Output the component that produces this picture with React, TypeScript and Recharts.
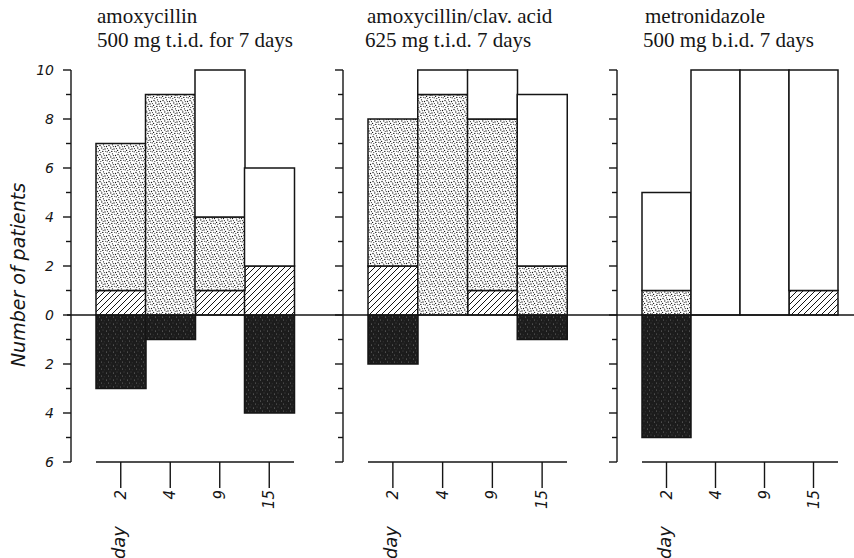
import { Bar, BarChart, ReferenceLine, XAxis, YAxis } from 'recharts';

// days of follow-up, same for every regimen
const days = ['2', '4', '9', '15'];

// amoxycillin 500 mg t.i.d. for 7 days
const amoxBlack = [-3, -1, 0, -4];
const amoxHatched = [1, 0, 1, 2];
const amoxStippled = [6, 9, 3, 0];
const amoxWhite = [0, 0, 6, 4];

// amoxycillin/clav. acid 625 mg t.i.d. 7 days
const clavBlack = [-2, 0, 0, -1];
const clavHatched = [2, 0, 1, 0];
const clavStippled = [6, 9, 7, 2];
const clavWhite = [0, 1, 2, 7];

// metronidazole 500 mg b.i.d. 7 days
const metroBlack = [-5, 0, 0, 0];
const metroHatched = [0, 0, 0, 1];
const metroStippled = [1, 0, 0, 0];
const metroWhite = [4, 10, 10, 9];

const yTicks = [-6, -5, -4, -3, -2, -1, 0, 1, 2, 3, 4, 5, 6, 7, 8, 9, 10];

const INK = '#151515';
const HAND = '"DejaVu Sans", sans-serif';

function rows(black: number[], hatched: number[], stippled: number[], white: number[]) {
  return days.map((day, i) => ({
    day,
    black: black[i],
    hatched: hatched[i],
    stippled: stippled[i],
    white: white[i],
  }));
}

function YTick(props: any) {
  const { x, y, payload, showLabel } = props;
  const v = payload.value as number;
  const major = v % 2 === 0;
  return (
    <g>
      <line x1={x - (major ? 8 : 5)} x2={x} y1={y} y2={y} stroke={INK} strokeWidth={1.4} />
      {showLabel && major && (
        <text
          x={x - 17}
          y={y + 5}
          textAnchor="end"
          fontFamily={HAND}
          fontStyle="italic"
          fontWeight={300}
          fontSize={14}
          fill={INK}
        >
          {Math.abs(v)}
        </text>
      )}
    </g>
  );
}

function XTick(props: any) {
  const { x, y, payload } = props;
  return (
    <text
      x={x + 5}
      y={y}
      transform={`rotate(-90, ${x + 5}, ${y})`}
      textAnchor="end"
      fontFamily={HAND}
      fontStyle="italic"
      fontWeight={300}
      fontSize={15}
      fill={INK}
    >
      {payload.value}
    </text>
  );
}

function DayLabel(props: any) {
  const { viewBox } = props;
  const cx = viewBox.x + viewBox.width / 8 + 4;
  const top = viewBox.y + 64;
  return (
    <text
      x={cx}
      y={top}
      transform={`rotate(-90, ${cx}, ${top})`}
      textAnchor="end"
      fontFamily={HAND}
      fontStyle="italic"
      fontWeight={300}
      fontSize={18}
      fill={INK}
    >
      day
    </text>
  );
}

type PanelProps = {
  data: ReturnType<typeof rows>;
  left: number;
  width: number;
  margin: { top: number; right: number; bottom: number; left: number };
  axisWidth: number;
  showLabels: boolean;
  zeroFrom: number;
};

function Panel({ data, left, width, margin, axisWidth, showLabels, zeroFrom }: PanelProps) {
  return (
    <div style={{ position: 'absolute', left, top: 0 }}>
      <BarChart
        width={width}
        height={558}
        data={data}
        margin={margin}
        barCategoryGap={0}
        stackOffset="sign"
      >
        <XAxis
          dataKey="day"
          interval={0}
          height={90}
          tickSize={26}
          tickMargin={2}
          stroke={INK}
          tickLine={{ stroke: INK, strokeWidth: 1.4 }}
          axisLine={{ stroke: INK, strokeWidth: 1.4 }}
          tick={<XTick />}
          label={<DayLabel />}
        />
        <YAxis
          yAxisId="b"
          width={axisWidth}
          domain={[-6, 10]}
          ticks={yTicks}
          interval={0}
          tickSize={0}
          tickMargin={0}
          tickLine={false}
          axisLine={{ stroke: INK, strokeWidth: 1.4 }}
          tick={<YTick showLabel={showLabels} />}
        />
        {/* empty axis that only opens the gap between the y axis and the first bar */}
        <YAxis yAxisId="a" width={25} axisLine={false} tickLine={false} tick={false} />
        <ReferenceLine
          yAxisId="b"
          y={0}
          ifOverflow="visible"
          shape={(p: any) => (
            <line x1={zeroFrom} x2={width} y1={p.y1} y2={p.y1} stroke={INK} strokeWidth={1.4} />
          )}
        />
        <Bar dataKey="black" stackId="s" yAxisId="b" fill="url(#speckle)" stroke={INK} strokeWidth={1.5} isAnimationActive={false} />
        <Bar dataKey="hatched" stackId="s" yAxisId="b" fill="url(#hatch)" stroke={INK} strokeWidth={1.5} isAnimationActive={false} />
        <Bar dataKey="stippled" stackId="s" yAxisId="b" fill="url(#stipple)" stroke={INK} strokeWidth={1.5} isAnimationActive={false} />
        <Bar dataKey="white" stackId="s" yAxisId="b" fill="#ffffff" stroke={INK} strokeWidth={1.5} isAnimationActive={false} />
      </BarChart>
    </div>
  );
}

export default function App() {
  return (
    <div style={{ position: 'absolute', left: 0, top: 0, width: 854, height: 558, background: '#fff', overflow: 'hidden' }}>
      <svg width={0} height={0} style={{ position: 'absolute' }}>
        <defs>
          <pattern id="stipple" width={9} height={9} patternUnits="userSpaceOnUse">
            <rect width={9} height={9} fill="#fff" />
            <circle cx={1} cy={1.5} r={0.7} fill={INK} />
            <circle cx={4.5} cy={0.8} r={0.65} fill={INK} />
            <circle cx={7.5} cy={2.5} r={0.7} fill={INK} />
            <circle cx={2.8} cy={4} r={0.65} fill={INK} />
            <circle cx={6} cy={5} r={0.7} fill={INK} />
            <circle cx={0.6} cy={6.4} r={0.65} fill={INK} />
            <circle cx={3.8} cy={7.4} r={0.7} fill={INK} />
            <circle cx={8.2} cy={7.8} r={0.65} fill={INK} />
            <circle cx={5.3} cy={2.6} r={0.55} fill={INK} />
            <circle cx={1.8} cy={8.6} r={0.55} fill={INK} />
            <circle cx={8.4} cy={4.6} r={0.55} fill={INK} />
            <circle cx={4.2} cy={5.6} r={0.5} fill={INK} />
            <circle cx={6.6} cy={7.2} r={0.5} fill={INK} />
            <circle cx={2.2} cy={2.4} r={0.45} fill={INK} />
          </pattern>
          <pattern id="hatch" width={6} height={6} patternUnits="userSpaceOnUse">
            <rect width={6} height={6} fill="#fff" />
            <path d="M0,6 L6,0 M-1,1 L1,-1 M5,7 L7,5" stroke={INK} strokeWidth={1} />
          </pattern>
          <pattern id="speckle" width={7} height={7} patternUnits="userSpaceOnUse">
            <rect width={7} height={7} fill="#1c1c1c" />
            <circle cx={1.5} cy={2} r={0.5} fill="#8a8a8a" />
            <circle cx={5} cy={1} r={0.45} fill="#6a6a6a" />
            <circle cx={3.5} cy={5} r={0.5} fill="#7a7a7a" />
            <circle cx={6.2} cy={5.8} r={0.4} fill="#5a5a5a" />
          </pattern>
        </defs>
      </svg>

      <Panel
        data={rows(amoxBlack, amoxHatched, amoxStippled, amoxWhite)}
        left={0}
        width={300}
        margin={{ top: 70, right: 6, bottom: 6, left: 31 }}
        axisWidth={40}
        showLabels
        zeroFrom={67}
      />
      <Panel
        data={rows(clavBlack, clavHatched, clavStippled, clavWhite)}
        left={300}
        width={290}
        margin={{ top: 70, right: 23, bottom: 6, left: 23 }}
        axisWidth={20}
        showLabels={false}
        zeroFrom={0}
      />
      <Panel
        data={rows(metroBlack, metroHatched, metroStippled, metroWhite)}
        left={590}
        width={264}
        margin={{ top: 70, right: 16, bottom: 6, left: 7 }}
        axisWidth={20}
        showLabels={false}
        zeroFrom={0}
      />

      <svg width={854} height={558} style={{ position: 'absolute', left: 0, top: 0, pointerEvents: 'none' }}>
        <g fontFamily='"Liberation Serif", serif' fontSize={21} fill={INK}>
          <text x={97} y={23}>amoxycillin</text>
          <text x={97} y={47}>500 mg t.i.d. for 7 days</text>
          <text x={367} y={23}>amoxycillin/clav. acid</text>
          <text x={365} y={47}>625 mg t.i.d. 7 days</text>
          <text x={645} y={23}>metronidazole</text>
          <text x={643} y={47}>500 mg b.i.d. 7 days</text>
        </g>
        <text
          x={25}
          y={275}
          transform="rotate(-90, 25, 275)"
          textAnchor="middle"
          fontFamily={HAND}
          fontStyle="italic"
          fontWeight={300}
          fontSize={19}
          fill={INK}
        >
          Number of patients
        </text>
      </svg>
    </div>
  );
}
